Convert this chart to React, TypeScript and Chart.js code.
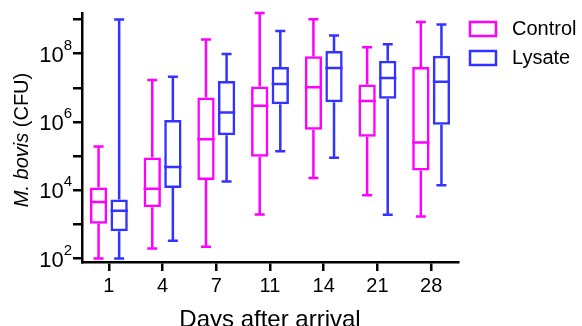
import React, { useEffect, useRef } from 'react';
import { Chart, registerables } from 'chart.js';

Chart.register(...registerables);

// ---- data ----
const days = ['1', '4', '7', '11', '14', '21', '28'];
const seriesNames = ['Control', 'Lysate'];
const seriesColors = ['#ff00ff', '#3333ff'];

const controlMin = [1e2, 1.95e2, 2.2e2, 1.95e3, 2.3e4, 7.1e3, 1.7e3];
const controlQ1 = [1.05e3, 3.2e3, 2.0e4, 9.5e4, 5.9e5, 3.7e5, 3.8e4];
const controlMedian = [4.5e3, 1.1e4, 3.1e5, 3.0e6, 1.05e7, 4.1e6, 2.5e5];
const controlQ3 = [1.2e4, 9.1e4, 5.2e6, 1.1e7, 8.5e7, 1.26e7, 4.1e7];
const controlMax = [1.9e5, 1.7e7, 2.6e8, 1.55e9, 1.02e9, 1.55e8, 8.5e8];

const lysateMin = [1e2, 3.3e2, 1.8e4, 1.4e5, 8.9e4, 1.9e3, 1.4e4];
const lysateQ1 = [6.3e2, 1.17e4, 4.1e5, 3.3e6, 3.8e6, 4.8e6, 8.3e5];
const lysateMedian = [2.5e3, 4.8e4, 1.9e6, 1.3e7, 3.8e7, 1.95e7, 1.5e7];
const lysateQ3 = [5.4e3, 1.15e6, 1.6e7, 4.1e7, 1.2e8, 6.2e7, 8.7e7];
const lysateMax = [1e9, 2.1e7, 9.8e7, 4.6e8, 3.4e8, 1.9e8, 7.2e8];

const yTickValues = [1e2, 1e3, 1e4, 1e5, 1e6, 1e7, 1e8, 1e9];
const yLabelValues = [1e2, 1e4, 1e6, 1e8];
const yLabelExponents = ['2', '4', '6', '8'];
const yMin = 79;
const yMax = 1.56e9;

const xTitle = 'Days after arrival';
const yTitleItalic = 'M. bovis';
const yTitleRest = ' (CFU)';

const FONT = "'Liberation Sans', Arial, Helvetica, sans-serif";
const LW = 2.5;

const whiskers = [
  { min: controlMin, median: controlMedian, max: controlMax },
  { min: lysateMin, median: lysateMedian, max: lysateMax },
];

const boxPlugin = {
  id: 'boxWhiskers',
  afterDatasetsDraw(chart: any) {
    const ctx = chart.ctx;
    const yScale = chart.scales.y;
    ctx.save();
    ctx.lineWidth = LW;
    ctx.lineCap = 'butt';
    chart.data.datasets.forEach((ds: any, di: number) => {
      const meta = chart.getDatasetMeta(di);
      const w = whiskers[di];
      ctx.strokeStyle = ds.borderColor;
      meta.data.forEach((bar: any, i: number) => {
        const { x, width } = bar.getProps(['x', 'width'], true);
        const range = ds.data[i];
        const yQ1 = yScale.getPixelForValue(range[0]);
        const yQ3 = yScale.getPixelForValue(range[1]);
        const yMed = yScale.getPixelForValue(w.median[i]);
        const yLo = yScale.getPixelForValue(w.min[i]);
        const yHi = yScale.getPixelForValue(w.max[i]);
        const cap = 5;
        ctx.beginPath();
        ctx.moveTo(x, yQ1);
        ctx.lineTo(x, yLo);
        ctx.moveTo(x - cap, yLo);
        ctx.lineTo(x + cap, yLo);
        ctx.moveTo(x, yQ3);
        ctx.lineTo(x, yHi);
        ctx.moveTo(x - cap, yHi);
        ctx.lineTo(x + cap, yHi);
        ctx.moveTo(x - width / 2, yMed);
        ctx.lineTo(x + width / 2, yMed);
        ctx.stroke();
      });
    });
    ctx.restore();
  },
  afterDraw(chart: any) {
    const ctx = chart.ctx;
    const yScale = chart.scales.y;
    const area = chart.chartArea;
    ctx.save();
    ctx.fillStyle = '#000';
    // y tick labels with superscripts
    yLabelValues.forEach((v, i) => {
      const py = yScale.getPixelForValue(v);
      ctx.font = `15px ${FONT}`;
      const expW = ctx.measureText(yLabelExponents[i]).width;
      const right = area.left - 10;
      ctx.textAlign = 'left';
      ctx.textBaseline = 'middle';
      ctx.fillText(yLabelExponents[i], right - expW, py - 8);
      ctx.font = `22px ${FONT}`;
      ctx.textAlign = 'right';
      ctx.fillText('10', right - expW, py + 2);
    });
    // y title
    ctx.save();
    ctx.translate(22, 140);
    ctx.rotate(-Math.PI / 2);
    ctx.textBaseline = 'middle';
    ctx.textAlign = 'left';
    ctx.font = `italic 20px ${FONT}`;
    const w1 = ctx.measureText(yTitleItalic).width;
    ctx.font = `20px ${FONT}`;
    const w2 = ctx.measureText(yTitleRest).width;
    const start = -(w1 + w2) / 2;
    ctx.font = `italic 20px ${FONT}`;
    ctx.fillText(yTitleItalic, start, 0);
    ctx.font = `20px ${FONT}`;
    ctx.fillText(yTitleRest, start + w1, 0);
    ctx.restore();
    // x title
    ctx.font = `24px ${FONT}`;
    ctx.textAlign = 'center';
    ctx.textBaseline = 'alphabetic';
    ctx.fillText(xTitle, (area.left + area.right) / 2, 327);
    // legend
    chart.data.datasets.forEach((ds: any, di: number) => {
      const top = 22 + di * 29;
      ctx.strokeStyle = ds.borderColor;
      ctx.lineWidth = LW;
      ctx.strokeRect(470, top, 26, 14);
      ctx.fillStyle = '#000';
      ctx.font = `20px ${FONT}`;
      ctx.textAlign = 'left';
      ctx.textBaseline = 'middle';
      ctx.fillText(ds.label, 512, top + 7.5);
    });
    ctx.restore();
  },
};

export default function App() {
  const canvasRef = useRef<HTMLCanvasElement | null>(null);

  useEffect(() => {
    const canvas = canvasRef.current;
    if (!canvas) return;
    const chart = new Chart(canvas, {
      type: 'bar',
      data: {
        labels: days,
        datasets: [
          {
            label: seriesNames[0],
            data: controlQ1.map((q1, i) => [q1, controlQ3[i]]) as any,
            borderColor: seriesColors[0],
            backgroundColor: 'rgba(0,0,0,0)',
            borderWidth: LW,
            borderSkipped: false,
          },
          {
            label: seriesNames[1],
            data: lysateQ1.map((q1, i) => [q1, lysateQ3[i]]) as any,
            borderColor: seriesColors[1],
            backgroundColor: 'rgba(0,0,0,0)',
            borderWidth: LW,
            borderSkipped: false,
          },
        ],
      },
      options: {
        responsive: false,
        animation: false,
        events: [],
        datasets: {
          bar: { categoryPercentage: 0.767, barPercentage: 0.84 },
        } as any,
        layout: { padding: { top: 13, right: 124, bottom: 0, left: 0 } },
        plugins: {
          legend: { display: false },
          tooltip: { enabled: false },
          title: { display: false },
        },
        scales: {
          x: {
            type: 'category',
            offset: true,
            grid: {
              offset: false,
              drawOnChartArea: false,
              drawTicks: true,
              tickLength: 9,
              color: '#000',
              lineWidth: LW,
            },
            border: { display: true, color: '#000', width: LW },
            ticks: {
              color: '#000',
              font: { family: FONT, size: 20 },
              padding: 3,
              maxRotation: 0,
            },
            afterFit: (scale: any) => {
              scale.height = 64;
            },
          },
          y: {
            type: 'logarithmic',
            min: yMin,
            max: yMax,
            grid: {
              drawOnChartArea: false,
              drawTicks: true,
              tickLength: 9,
              color: '#000',
              lineWidth: LW,
            },
            border: { display: true, color: '#000', width: LW },
            ticks: {
              callback: () => '',
            },
            afterBuildTicks: (scale: any) => {
              scale.ticks = yTickValues.map((v) => ({ value: v }));
            },
            afterFit: (scale: any) => {
              scale.width = 82;
            },
          },
        },
      },
      plugins: [boxPlugin],
    });
    return () => chart.destroy();
  }, []);

  return (
    <div style={{ position: 'fixed', left: 0, top: 0, width: 582, height: 326, background: '#fff' }}>
      <canvas ref={canvasRef} width={582} height={326} style={{ display: 'block' }} />
    </div>
  );
}
